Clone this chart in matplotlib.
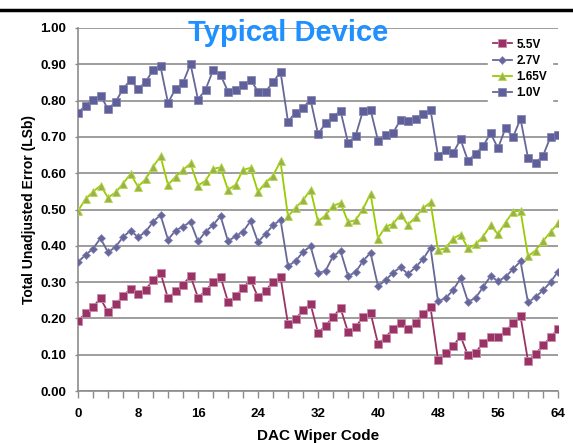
import matplotlib
matplotlib.use("Agg")
import matplotlib.pyplot as plt
import numpy as np

codes = list(range(65))

v55 = [0.193, 0.214, 0.232, 0.255, 0.217, 0.239, 0.261, 0.282, 0.266, 0.279,
       0.305, 0.326, 0.255, 0.275, 0.293, 0.317, 0.257, 0.276, 0.299, 0.315,
       0.246, 0.261, 0.284, 0.306, 0.259, 0.276, 0.301, 0.314, 0.185, 0.197,
       0.224, 0.240, 0.160, 0.180, 0.204, 0.228, 0.163, 0.176, 0.204, 0.216,
       0.130, 0.147, 0.172, 0.187, 0.171, 0.187, 0.212, 0.231, 0.086, 0.104,
       0.123, 0.151, 0.098, 0.105, 0.133, 0.148, 0.148, 0.166, 0.186, 0.206,
       0.083, 0.102, 0.126, 0.148, 0.171]

v27 = [0.355, 0.375, 0.392, 0.421, 0.382, 0.397, 0.424, 0.442, 0.424, 0.438,
       0.466, 0.485, 0.417, 0.442, 0.453, 0.466, 0.412, 0.439, 0.457, 0.482,
       0.413, 0.426, 0.439, 0.468, 0.410, 0.433, 0.456, 0.472, 0.344, 0.358,
       0.383, 0.399, 0.325, 0.331, 0.371, 0.386, 0.317, 0.327, 0.358, 0.381,
       0.289, 0.305, 0.326, 0.341, 0.322, 0.341, 0.363, 0.395, 0.248, 0.255,
       0.278, 0.310, 0.246, 0.256, 0.286, 0.316, 0.303, 0.314, 0.336, 0.357,
       0.244, 0.259, 0.277, 0.300, 0.329]

v165 = [0.496, 0.529, 0.549, 0.566, 0.533, 0.547, 0.571, 0.598, 0.563, 0.583,
        0.617, 0.647, 0.568, 0.590, 0.609, 0.627, 0.566, 0.579, 0.612, 0.616,
        0.554, 0.568, 0.609, 0.615, 0.548, 0.574, 0.593, 0.633, 0.481, 0.505,
        0.525, 0.555, 0.467, 0.484, 0.510, 0.518, 0.466, 0.470, 0.501, 0.544,
        0.420, 0.453, 0.460, 0.486, 0.458, 0.479, 0.503, 0.520, 0.388, 0.393,
        0.420, 0.431, 0.393, 0.404, 0.425, 0.456, 0.432, 0.464, 0.494, 0.497,
        0.371, 0.387, 0.413, 0.438, 0.462]

v10 = [0.767, 0.786, 0.802, 0.814, 0.777, 0.796, 0.832, 0.857, 0.832, 0.851,
       0.884, 0.894, 0.794, 0.832, 0.849, 0.901, 0.803, 0.830, 0.883, 0.871,
       0.825, 0.829, 0.842, 0.858, 0.825, 0.825, 0.850, 0.880, 0.742, 0.767,
       0.780, 0.803, 0.708, 0.737, 0.755, 0.772, 0.684, 0.702, 0.772, 0.775,
       0.690, 0.706, 0.711, 0.747, 0.745, 0.750, 0.764, 0.775, 0.648, 0.663,
       0.655, 0.693, 0.634, 0.654, 0.674, 0.710, 0.669, 0.724, 0.699, 0.750,
       0.642, 0.629, 0.648, 0.700, 0.705]

series_labels = ["5.5V", "2.7V", "1.65V", "1.0V"]
xticks = [0, 8, 16, 24, 32, 40, 48, 56, 64]
yticks = [0.0, 0.1, 0.2, 0.3, 0.4, 0.5, 0.6, 0.7, 0.8, 0.9, 1.0]

plt.rcParams['font.family'] = ['Liberation Sans', 'DejaVu Sans']

fig = plt.figure(figsize=(5.73, 4.43), dpi=100)
ax = fig.add_axes([78/573, 1 - 391/443, 480/573, 363/443])

ax.plot(codes, v55, color="#993366", lw=1.3, marker="s", ms=5.2,
        mfc="#993366", mec="#c98aa8", mew=0.6, label=series_labels[0], zorder=3)
ax.plot(codes, v27, color="#666699", lw=1.3, marker="D", ms=3.6,
        mfc="#666699", mec="#8a8ab8", mew=0.5, label=series_labels[1], zorder=3)
ax.plot(codes, v165, color="#99CC00", lw=1.3, marker="^", ms=5.5,
        mfc="#99b24d", mec="#b8d84a", mew=0.6, label=series_labels[2], zorder=3)
ax.plot(codes, v10, color="#666699", lw=1.3, marker="s", ms=5.2,
        mfc="#5f5f99", mec="#8080b0", mew=0.5, label=series_labels[3], zorder=3)

ax.set_xlim(0, 64)
ax.set_ylim(0, 1.0)
ax.set_xticks(xticks)
ax.set_xticks(range(0, 65, 2), minor=True)
ax.set_yticks(yticks)
ax.set_yticklabels([f"{v:.2f}" for v in yticks])
ax.grid(axis='y', color="#8c8c8c", lw=1.2, zorder=0)
ax.set_axisbelow(True)
for s in ["top", "right"]:
    ax.spines[s].set_visible(False)
for s in ["left", "bottom"]:
    ax.spines[s].set_color("#8c8c8c")
    ax.spines[s].set_linewidth(1.2)
ax.tick_params(axis='both', which='both', color="#8c8c8c", width=1.0)
ax.tick_params(axis='y', length=2.5, pad=6, labelsize=9.5)
ax.tick_params(axis='x', which='major', length=5, pad=7, labelsize=9.5)
ax.tick_params(axis='x', which='minor', length=5)
for lab in ax.get_xticklabels() + ax.get_yticklabels():
    lab.set_fontweight('bold')

ax.set_xlabel("DAC Wiper Code", fontsize=11, fontweight='bold', labelpad=7)
ax.set_ylabel("Total Unadjusted Error (LSb)", fontsize=10, fontweight='bold', labelpad=3)

ax.text(0.4375, 0.985, "Typical Device", transform=ax.transAxes,
        ha='center', va='center', fontsize=21, fontweight='bold', color="#1e90ff", zorder=5)

leg = ax.legend(loc='upper right', bbox_to_anchor=(1.0, 1.0), frameon=True,
                prop={'weight': 'bold', 'size': 8.5}, handlelength=1.6,
                labelspacing=0.35, borderpad=0.4, handletextpad=0.4)
leg.get_frame().set_facecolor('white')
leg.get_frame().set_edgecolor('white')
leg.get_frame().set_alpha(1)

# top border line of figure
fig.add_artist(plt.Line2D([0, 1], [1 - 10/443, 1 - 10/443], color='black', lw=2.5,
                          transform=fig.transFigure))

fig.savefig("out.png", dpi=100)
